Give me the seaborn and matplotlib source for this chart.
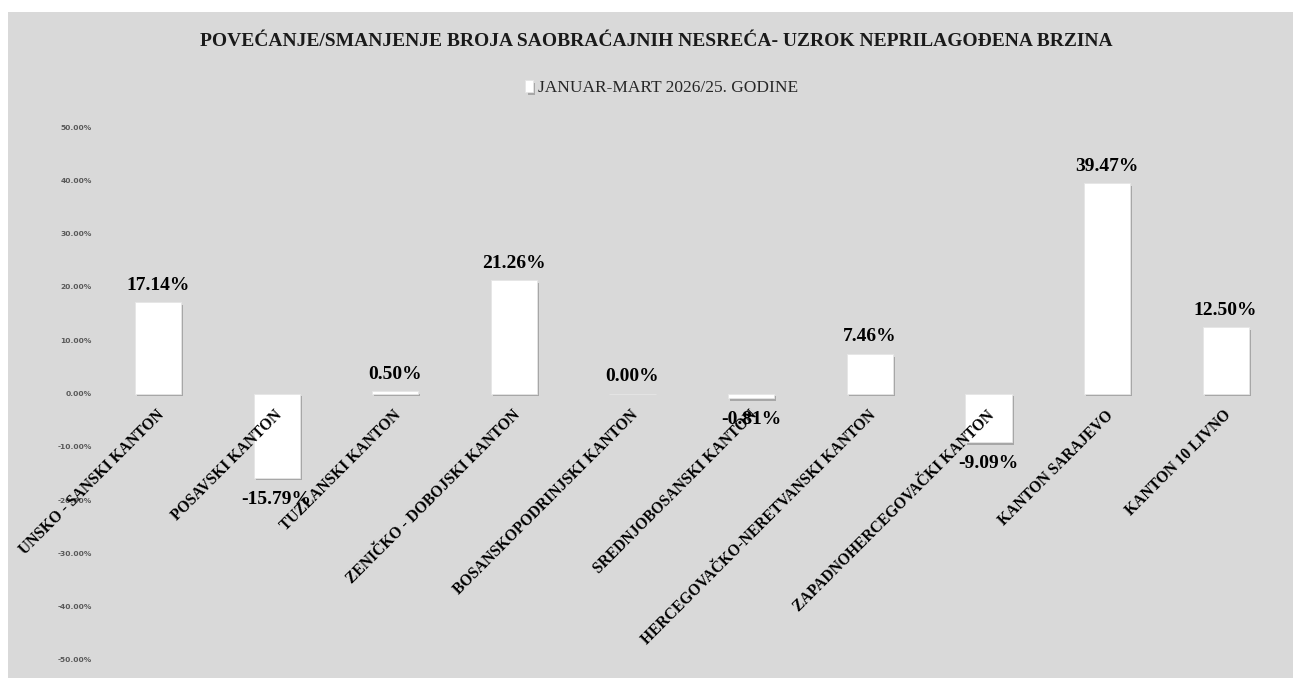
import matplotlib
matplotlib.use("Agg")
import matplotlib.pyplot as plt
import matplotlib.patheffects as pe
from matplotlib.patches import Rectangle
from matplotlib.ticker import FuncFormatter, MultipleLocator
import matplotlib.transforms as mtransforms
import seaborn as sns
import pandas as pd

# ---- data ----
cantons = [
    "UNSKO - SANSKI KANTON",
    "POSAVSKI KANTON",
    "TUZLANSKI KANTON",
    "ZENIČKO - DOBOJSKI KANTON",
    "BOSANSKOPODRINJSKI KANTON",
    "SREDNJOBOSANSKI KANTON",
    "HERCEGOVAČKO-NERETVANSKI KANTON",
    "ZAPADNOHERCEGOVAČKI KANTON",
    "KANTON SARAJEVO",
    "KANTON 10 LIVNO",
]
change_pct = [17.14, -15.79, 0.50, 21.26, 0.00, -0.81, 7.46, -9.09, 39.47, 12.50]
series_name = "JANUAR-MART 2026/25. GODINE"
title = "POVEĆANJE/SMANJENJE BROJA SAOBRAĆAJNIH NESREĆA- UZROK NEPRILAGOĐENA BRZINA"

df = pd.DataFrame({"kanton": cantons, "promjena": change_pct})

sns.set_theme(style="white")
plt.rcParams["font.family"] = ["Liberation Serif", "DejaVu Serif"]

BG = "#d9d9d9"
W, H = 1293, 678
fig = plt.figure(figsize=(W / 100, H / 100), dpi=100)
fig.patch.set_facecolor("white")
fig.patches.append(Rectangle((8 / W, 0), 1 - 8 / W, 1 - 12 / H, transform=fig.transFigure,
                             facecolor=BG, edgecolor="none", zorder=-10))

ax = fig.add_axes([98.7 / W, 1 - 660 / H, (1285 - 98.7) / W, (660 - 127) / H])
ax.set_facecolor("none")

sns.barplot(data=df, x="kanton", y="promjena", color="white", saturation=1,
            width=0.39, label=series_name, ax=ax, edgecolor="#e6e6e6", linewidth=0.6)
if ax.get_legend() is not None:
    ax.get_legend().remove()

for p in ax.patches:
    p.set_zorder(1)
    p.set_path_effects([pe.SimplePatchShadow(offset=(1.5, -2), shadow_rgbFace="#7f7f7f", alpha=0.55),
                        pe.Normal()])
ax.set_axisbelow(False)
ax.xaxis.set_zorder(3)

ax.set_ylim(-50, 50)
ax.yaxis.set_major_locator(MultipleLocator(10))
ax.yaxis.set_major_formatter(FuncFormatter(lambda v, _: f"{v:.2f}%"))
for lab in ax.get_yticklabels():
    lab.set_fontfamily("DejaVu Sans")
    lab.set_fontsize(5.4)
    lab.set_fontweight("bold")
    lab.set_color("#595959")
ax.tick_params(axis="y", length=0, pad=5)

for s in ax.spines.values():
    s.set_visible(False)
ax.spines["bottom"].set_position(("data", 0))
ax.set_xlabel("")
ax.set_ylabel("")
ax.tick_params(axis="x", length=0, pad=14)
offset = mtransforms.ScaledTranslation(2.5 / 72, 0, fig.dpi_scale_trans)
for lab in ax.get_xticklabels():
    lab.set_rotation(45)
    lab.set_ha("right")
    lab.set_va("center")
    lab.set_rotation_mode("anchor")
    lab.set_fontsize(11.2)
    lab.set_fontweight("bold")
    lab.set_color("black")
    lab.set_transform(lab.get_transform() + offset)

for p, v in zip(ax.patches, change_pct):
    x = p.get_x() + p.get_width() / 2
    if v < 0:
        ax.annotate(f"{v:.2f}%", (x, v), xytext=(0, -9.5), textcoords="offset points",
                    ha="center", va="top", fontsize=14, fontweight="bold", color="black",
                    zorder=2)
    else:
        ax.annotate(f"{v:.2f}%", (x, v), xytext=(0, 6), textcoords="offset points",
                    ha="center", va="bottom", fontsize=14, fontweight="bold", color="black",
                    zorder=2)

fig.text(656 / W, 1 - 42 / H, title, ha="center", va="center", fontsize=14,
         fontweight="bold", color="#1a1a1a")

leg = fig.legend(loc="center", bbox_to_anchor=(662 / W, 1 - 88 / H), frameon=False,
                 handlelength=0.45, handleheight=0.7, handletextpad=0.3,
                 prop={"family": "Liberation Serif", "size": 12.5})
for t in leg.get_texts():
    t.set_color("#262626")

fig.savefig("out.png", dpi=100, facecolor=fig.get_facecolor())
